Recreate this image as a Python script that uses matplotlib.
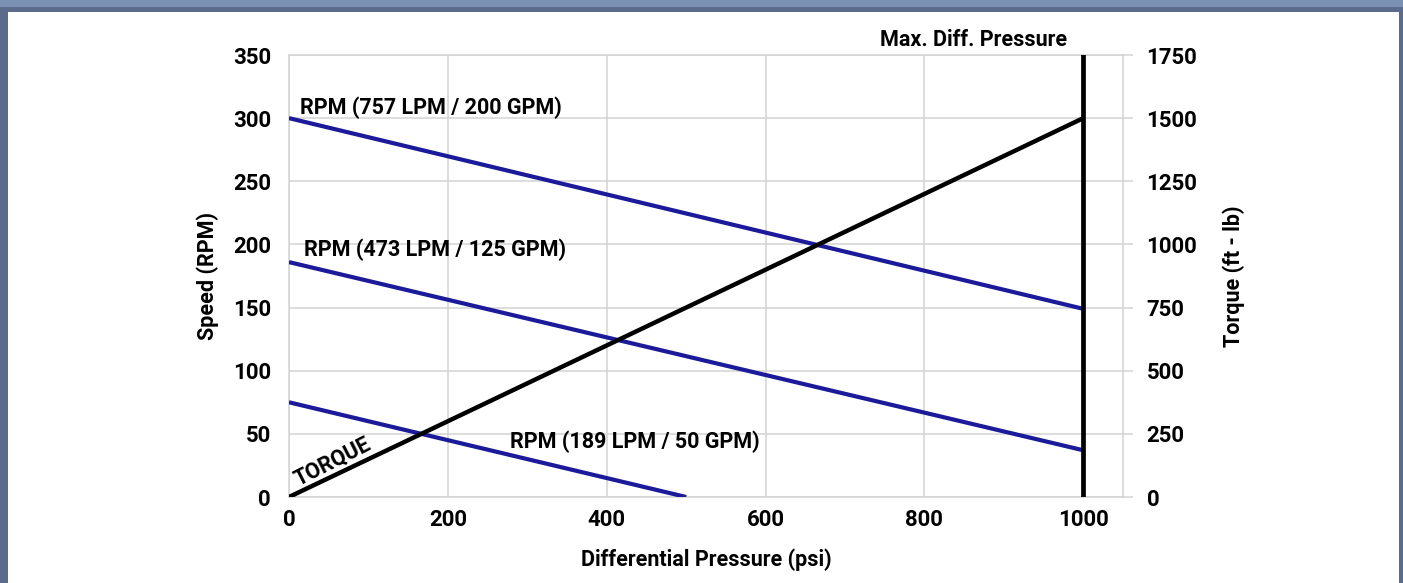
import matplotlib
matplotlib.use("Agg")
import matplotlib.pyplot as plt
from matplotlib.patches import Rectangle

plt.rcParams['font.family'] = ['Roboto', 'DejaVu Sans']

# Differential pressure (psi) at the ends of each line
pressure_757 = [0, 1000]
rpm_757 = [300, 149]
pressure_473 = [0, 1000]
rpm_473 = [186, 37]
pressure_189 = [0, 500]
rpm_189 = [75, 0]

# Torque (ft-lb) against differential pressure
torque_pressure = [0, 1000]
torque_values = [0, 1500]

max_diff_pressure = 1000

x_ticks = [0, 200, 400, 600, 800, 1000]
speed_ticks = [0, 50, 100, 150, 200, 250, 300, 350]
torque_ticks = [0, 250, 500, 750, 1000, 1250, 1500, 1750]

series_labels = ["RPM (757 LPM / 200 GPM)", "RPM (473 LPM / 125 GPM)",
                 "RPM (189 LPM / 50 GPM)"]

blue = "#1b1a9a"
grid_c = "#d3d3d3"
tick_fs = 16
text_fs = 15.5

fig = plt.figure(figsize=(14.03, 5.83), dpi=100)
fig.patch.set_facecolor("white")

# Frame around the figure
fig.patches.append(Rectangle((0, 1 - 7 / 583), 1, 7 / 583, transform=fig.transFigure,
                             facecolor="#7b91b4", edgecolor="none", zorder=0))
fig.patches.append(Rectangle((0, 1 - 12 / 583), 1, 5 / 583, transform=fig.transFigure,
                             facecolor="#5a6b8b", edgecolor="none", zorder=0))
fig.patches.append(Rectangle((0, 0), 8 / 1403, 1 - 7 / 583, transform=fig.transFigure,
                             facecolor="#5a6b8b", edgecolor="none", zorder=0))
fig.patches.append(Rectangle((1 - 4 / 1403, 0), 4 / 1403, 1 - 7 / 583, transform=fig.transFigure,
                             facecolor="#5a6b8b", edgecolor="none", zorder=0))

ax = fig.add_axes([289 / 1403, 86 / 583, (1123 - 289) / 1403, (497 - 55) / 583])
ax.set_xlim(0, 1050)
ax.set_ylim(0, 350)
ax.set_xticks(x_ticks)
ax.set_yticks(speed_ticks)
ax.grid(True, color=grid_c, linewidth=1.1)
ax.set_axisbelow(True)
for s in ax.spines.values():
    s.set_color(grid_c)
    s.set_linewidth(1.1)
ax.tick_params(axis="both", length=0, labelsize=tick_fs, pad=13)
for lab in ax.get_xticklabels() + ax.get_yticklabels():
    lab.set_fontweight("bold")
ax.tick_params(axis="x", pad=9)

ax.set_xlabel("Differential Pressure (psi)", fontsize=text_fs, fontweight="bold", labelpad=12)
ax.set_ylabel("Speed (RPM)", fontsize=text_fs, fontweight="bold", labelpad=10)

ax2 = ax.twinx()
ax2.set_ylim(0, 1750)
ax2.set_yticks(torque_ticks)
for s in ax2.spines.values():
    s.set_visible(False)
ax2.tick_params(axis="y", length=7, width=1.1, color=grid_c, labelsize=tick_fs, pad=10)
for lab in ax2.get_yticklabels():
    lab.set_fontweight("bold")
ax2.set_ylabel("Torque (ft - lb)", fontsize=text_fs, fontweight="bold", labelpad=18)

# Speed lines
ax.plot(pressure_757, rpm_757, color=blue, lw=3.0, solid_capstyle="butt", zorder=3)
ax.plot(pressure_473, rpm_473, color=blue, lw=3.0, solid_capstyle="butt", zorder=3)
ax.plot(pressure_189, rpm_189, color=blue, lw=3.0, solid_capstyle="butt", zorder=3)

# Max differential pressure limit and torque line
ax.axvline(max_diff_pressure, color="black", lw=3.4, zorder=4)
ax2.plot(torque_pressure, torque_values, color="black", lw=3.2, solid_capstyle="butt", zorder=4)

ax.text(14, 308, series_labels[0], fontsize=text_fs, fontweight="bold", va="center", ha="left")
ax.text(19, 196, series_labels[1], fontsize=text_fs, fontweight="bold", va="center", ha="left")
ax.text(278, 43.5, series_labels[2], fontsize=text_fs, fontweight="bold", va="center", ha="left")
ax.text(55, 28, "TORQUE", fontsize=text_fs, fontweight="bold", va="center", ha="center",
        rotation=27, rotation_mode="anchor")
ax.text(980, 353, "Max. Diff. Pressure", fontsize=text_fs, fontweight="bold",
        va="bottom", ha="right")

fig.savefig("out.png", dpi=100, facecolor="white")
